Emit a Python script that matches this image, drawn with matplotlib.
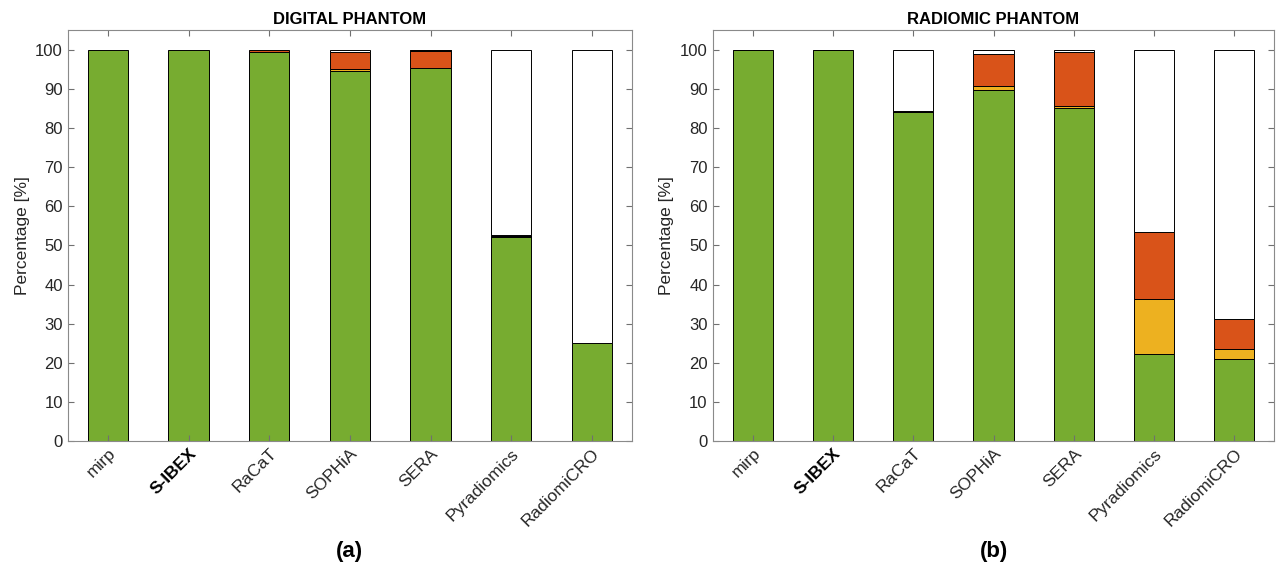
import numpy as np
import matplotlib
matplotlib.use("Agg")
import matplotlib.pyplot as plt

plt.rcParams['font.family'] = ['Liberation Sans', 'DejaVu Sans']

tools = ["mirp", "S-IBEX", "RaCaT", "SOPHiA", "SERA", "Pyradiomics", "RadiomiCRO"]

dig_green = [100, 100, 99.5, 94.5, 95.3, 52.2, 25.0]
dig_yellow = [0, 0, 0, 0.5, 0, 0, 0]
dig_orange = [0, 0, 0.5, 4.4, 4.3, 0, 0]
dig_black = [0, 0, 0, 0, 0.2, 0.4, 0]

rad_green = [99.8, 99.8, 84.0, 89.7, 85.0, 22.3, 21.1]
rad_yellow = [0, 0, 0, 1.0, 0.7, 13.9, 2.5]
rad_orange = [0, 0, 0, 8.2, 13.6, 17.1, 7.7]
rad_black = [0.2, 0.2, 0.2, 0, 0, 0, 0]

colors = ["#77AC30", "#EDB120", "#D95319", "#000000", "#FFFFFF"]

fig = plt.figure(figsize=(12.77, 5.67), dpi=100)
ax1 = fig.add_axes([0.053, 0.222, 0.442, 0.725])
ax2 = fig.add_axes([0.558, 0.222, 0.440, 0.725])

def draw(ax, series, title, letter):
    x = np.arange(1, len(tools) + 1)
    arrs = [np.array(s, dtype=float) for s in series]
    white = 100 - sum(arrs)
    arrs.append(white)
    bottom = np.zeros(len(tools))
    for a, c in zip(arrs, colors):
        m = a > 0.01
        ax.bar(x[m], a[m], bottom=bottom[m], width=0.5, color=c,
               edgecolor="black", linewidth=0.7)
        bottom += a
    ax.set_xlim(0.5, len(tools) + 0.5)
    ax.set_ylim(0, 105)
    ax.set_yticks(np.arange(0, 101, 10))
    ax.set_xticks(x)
    ax.set_xticklabels(tools, rotation=45, ha="right", rotation_mode="anchor",
                       fontsize=12.5, color="#262626")
    for lbl in ax.get_xticklabels():
        if lbl.get_text() == "S-IBEX":
            lbl.set_fontweight("bold")
            lbl.set_color("black")
    ax.tick_params(axis="y", labelsize=12, labelcolor="#262626")
    ax.tick_params(direction="in", top=True, right=True, length=4,
                   color="#707070", width=0.8)
    for sp in ax.spines.values():
        sp.set_color("#8a8a8a")
        sp.set_linewidth(0.8)
    ax.set_ylabel("Percentage [%]", fontsize=12.5, color="#262626")
    ax.set_title(title, fontsize=12, fontweight="bold", pad=4)
    ax.text(0.5, -0.268, letter, transform=ax.transAxes, ha="center",
            va="center", fontsize=16, fontweight="bold")

draw(ax1, [dig_green, dig_yellow, dig_orange, dig_black], "DIGITAL PHANTOM", "(a)")
draw(ax2, [rad_green, rad_yellow, rad_orange, rad_black], "RADIOMIC PHANTOM", "(b)")

fig.savefig("out.png", dpi=100)
